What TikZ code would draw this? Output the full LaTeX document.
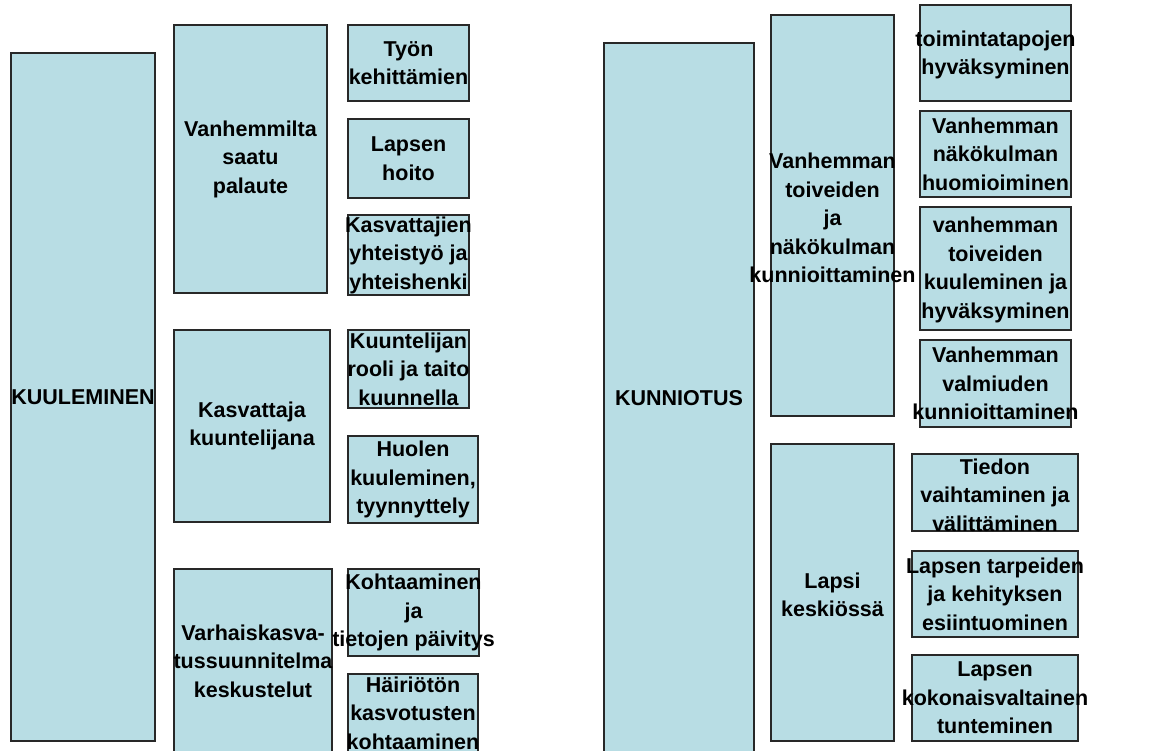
\documentclass[tikz,border=0pt]{standalone}
\usepackage{fontspec}
\setmainfont{Liberation Sans}
\definecolor{boxfill}{RGB}{184,221,228}
\definecolor{boxline}{RGB}{40,40,40}
\tikzset{
  bx/.style={draw=boxline, fill=boxfill, line width=1.2pt, rectangle, inner sep=0pt},
  txt/.style={align=center, inner sep=0pt, font=\fontsize{21.5}{28.5}\selectfont\bfseries, text=black}
}
\begin{document}
\begin{tikzpicture}[x=1pt,y=-1pt]
\useasboundingbox (0,0) rectangle (1152,751);
\begin{scope}
\clip (0,0) rectangle (1152,751);
% left group
\node[bx, minimum width=144pt, minimum height=688pt] (kuul) at (83,397) {};
\node[txt] (kuult) at (83,397) {KUULEMINEN};
\node[bx, minimum width=153pt, minimum height=268pt] (vanh) at (250.5,159) {};
\node[txt] (vanht) at (vanh) {Vanhemmilta\\saatu\\palaute};
\node[bx, minimum width=121pt, minimum height=76pt] (tyon) at (408.5,63) {};
\node[txt] (tyont) at (tyon) {Työn\\kehittämien};
\node[bx, minimum width=121pt, minimum height=79pt] (lhoito) at (408.5,158.5) {};
\node[txt] (lhoitot) at (lhoito) {Lapsen\\hoito};
\node[bx, minimum width=121pt, minimum height=80pt] (kasvj) at (408.5,255) {};
\node[txt] (kasvjt) at (kasvj) {Kasvattajien\\yhteistyö ja\\yhteishenki};
\node[bx, minimum width=156pt, minimum height=192pt] (kuunt) at (252,426) {};
\node[txt] (kuuntt) at (kuunt) {Kasvattaja\\kuuntelijana};
\node[bx, minimum width=121pt, minimum height=78pt] (kuuntr) at (408.5,369) {};
\node[txt] (kuuntrt) at (kuuntr) {Kuuntelijan\\rooli ja taito\\kuunnella};
\node[bx, minimum width=130pt, minimum height=87pt] (huolen) at (413,479.5) {};
\node[txt] (huolent) at (huolen) {Huolen\\kuuleminen,\\tyynnyttely};
\node[bx, minimum width=158pt, minimum height=184pt] (varh) at (253,661) {};
\node[txt] (varht) at (varh) {Varhaiskasva-\\tussuunnitelma\\keskustelut};
\node[bx, minimum width=131pt, minimum height=87pt] (koht) at (413.5,612.5) {};
\node[txt] (kohtt) at (koht) {Kohtaaminen\\ja\\tietojen päivitys};
\node[bx, minimum width=130pt, minimum height=80pt] (hairi) at (413,714) {};
\node[txt] (hairit) at (413,713) {Häiriötön\\kasvotusten\\kohtaaminen};
% right group
\node[bx, minimum width=150pt, minimum height=712pt] (kunn) at (679,399) {};
\node[txt] (kunnt) at (679,398) {KUNNIOTUS};
\node[bx, minimum width=123pt, minimum height=401pt] (vtoiv) at (832.5,215.5) {};
\node[txt] (vtoivt) at (832.5,218) {Vanhemman\\toiveiden\\ja\\näkökulman\\kunnioittaminen};
\node[bx, minimum width=151pt, minimum height=96pt] (toim) at (995.5,53) {};
\node[txt] (toimt) at (995.5,55) {toimintatapojen\\hyväksyminen};
\node[bx, minimum width=151pt, minimum height=86pt] (vnako) at (995.5,154) {};
\node[txt] (vnakot) at (vnako) {Vanhemman\\näkökulman\\huomioiminen};
\node[bx, minimum width=151pt, minimum height=123pt] (vtoivk) at (995.5,268.5) {};
\node[txt] (vtoivkt) at (995.5,270) {vanhemman\\toiveiden\\kuuleminen ja\\hyväksyminen};
\node[bx, minimum width=151pt, minimum height=87pt] (vvalm) at (995.5,383.5) {};
\node[txt] (vvalmt) at (vvalm) {Vanhemman\\valmiuden\\kunnioittaminen};
\node[bx, minimum width=123pt, minimum height=297pt] (lapsi) at (832.5,592.5) {};
\node[txt] (lapsit) at (832.5,595) {Lapsi\\keskiössä};
\node[bx, minimum width=166pt, minimum height=77pt] (tiedon) at (995,492.5) {};
\node[txt] (tiedont) at (995,495) {Tiedon\\vaihtaminen ja\\välittäminen};
\node[bx, minimum width=166pt, minimum height=86pt] (ltarp) at (995,594) {};
\node[txt] (ltarpt) at (ltarp) {Lapsen tarpeiden\\ja kehityksen\\esiintuominen};
\node[bx, minimum width=166pt, minimum height=86pt] (lkok) at (995,698) {};
\node[txt] (lkokt) at (lkok) {Lapsen\\kokonaisvaltainen\\tunteminen};
\end{scope}
\end{tikzpicture}
\end{document}
